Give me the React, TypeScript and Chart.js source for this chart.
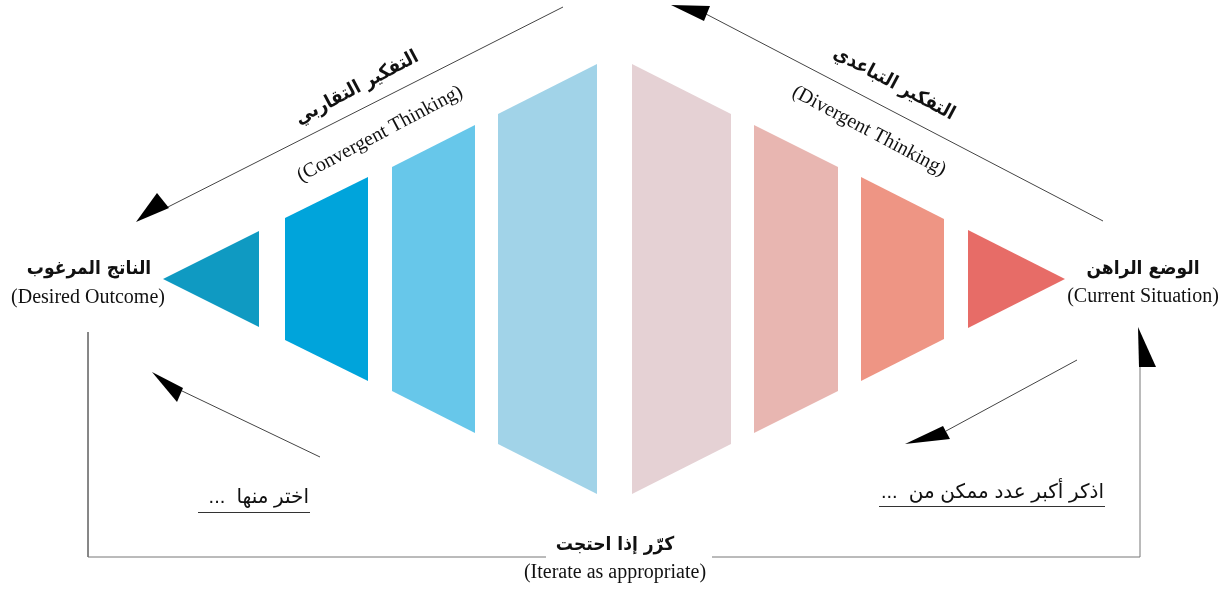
import React, { useEffect, useRef } from 'react';
import { Chart, registerables } from 'chart.js';

Chart.register(...registerables);

// ---- Diagram data (in canvas-sized data units: x 0..1230, y 0..590 top-down) ----
const centerY = 279;
const stageLeftX = [163, 285, 392, 498, 632, 754, 861, 968];
const stageRightX = [259, 368, 475, 597, 731, 838, 944, 1065];
const stageHalfLeft = [0, 61, 112, 165, 215, 154, 102, 49];
const stageHalfRight = [48, 102, 154, 215, 165, 112, 60, 0];
const stageColors = ['#0F9AC2', '#00A4DB', '#67C7EA', '#A1D3E8', '#E5D1D4', '#E8B6B1', '#EE9584', '#E76C67'];

const convergentLineX = [563, 166];
const convergentLineY = [7, 208];
const divergentLineX = [1103, 706];
const divergentLineY = [221, 14];
const chooseLineX = [320, 180];
const chooseLineY = [457, 390];
const listLineX = [1077, 946];
const listLineY = [360, 431];
const iterateLeftX = [88, 88, 546];
const iterateLeftY = [332, 557, 557];
const iterateRightX = [712, 1140, 1140];
const iterateRightY = [557, 557, 362];

// arrowheads: tip, base1, base2
const arrowTipX = [136, 671, 152, 905, 1138];
const arrowTipY = [222, 5, 372, 444, 327];
const arrowB1X = [157, 710, 183, 943, 1139];
const arrowB1Y = [193, 6, 388, 426, 367];
const arrowB2X = [169, 704, 177, 950, 1156];
const arrowB2Y = [208, 21, 402, 439, 367];

// ---- Text labels ----
const convergentAr = 'التفكير التقاربي';
const convergentEn = '(Convergent Thinking)';
const divergentAr = 'التفكير التباعدي';
const divergentEn = '(Divergent Thinking)';
const outcomeAr = 'الناتج المرغوب';
const outcomeEn = '(Desired Outcome)';
const currentAr = 'الوضع الراهن';
const currentEn = '(Current Situation)';
const iterateAr = 'كرّر إذا احتجت';
const iterateEn = '(Iterate as appropriate)';
const chooseAr = 'اختر منها  ...';
const listAr = 'اذكر أكبر عدد ممكن من  ...';

const AR_BOLD = "bold 19px 'DejaVu Sans Condensed', 'DejaVu Sans', sans-serif";
const EN_SERIF = "20px 'Liberation Serif', 'DejaVu Serif', serif";
const AR_PLAIN = "20px 'Liberation Sans', 'DejaVu Sans', sans-serif";

type Label = {
  text: string; x: number; y: number; angle: number; font: string;
  dir: 'rtl' | 'ltr'; align: 'center' | 'right'; underline?: number; underlineLeft?: number;
};

const labels: Label[] = [
  { text: convergentAr, x: 357, y: 88, angle: -28, font: AR_BOLD, dir: 'rtl', align: 'center' },
  { text: convergentEn, x: 380, y: 134, angle: -28, font: EN_SERIF, dir: 'ltr', align: 'center' },
  { text: divergentAr, x: 894, y: 84, angle: 28, font: AR_BOLD, dir: 'rtl', align: 'center' },
  { text: divergentEn, x: 869, y: 131, angle: 28, font: EN_SERIF, dir: 'ltr', align: 'center' },
  { text: outcomeAr, x: 89, y: 269, angle: 0, font: AR_BOLD, dir: 'rtl', align: 'center' },
  { text: outcomeEn, x: 88, y: 298, angle: 0, font: EN_SERIF, dir: 'ltr', align: 'center' },
  { text: currentAr, x: 1143, y: 269, angle: 0, font: AR_BOLD, dir: 'rtl', align: 'center' },
  { text: currentEn, x: 1143, y: 297, angle: 0, font: EN_SERIF, dir: 'ltr', align: 'center' },
  { text: iterateAr, x: 615, y: 545, angle: 0, font: AR_BOLD, dir: 'rtl', align: 'center' },
  { text: iterateEn, x: 615, y: 573, angle: 0, font: EN_SERIF, dir: 'ltr', align: 'center' },
  { text: chooseAr, x: 309, y: 497, angle: 0, font: AR_PLAIN, dir: 'rtl', align: 'right', underline: 512, underlineLeft: 198 },
  { text: listAr, x: 1104, y: 492, angle: 0, font: AR_PLAIN, dir: 'rtl', align: 'right', underline: 506, underlineLeft: 880 },
];

const overlayPlugin = {
  id: 'diagramOverlay',
  afterDatasetsDraw(chart: any) {
    const { ctx } = chart;
    const xs = chart.scales.x;
    const ys = chart.scales.y;
    const px = (v: number) => xs.getPixelForValue(v);
    const py = (v: number) => ys.getPixelForValue(v);
    ctx.save();
    // arrowheads
    ctx.fillStyle = '#000000';
    for (let i = 0; i < arrowTipX.length; i++) {
      ctx.beginPath();
      ctx.moveTo(px(arrowTipX[i]), py(arrowTipY[i]));
      ctx.lineTo(px(arrowB1X[i]), py(arrowB1Y[i]));
      ctx.lineTo(px(arrowB2X[i]), py(arrowB2Y[i]));
      ctx.closePath();
      ctx.fill();
    }
    // labels
    for (const l of labels) {
      ctx.save();
      ctx.font = l.font;
      ctx.fillStyle = '#111111';
      ctx.direction = l.dir;
      ctx.textBaseline = 'middle';
      ctx.textAlign = l.align;
      ctx.translate(px(l.x), py(l.y));
      ctx.rotate((l.angle * Math.PI) / 180);
      ctx.fillText(l.text, 0, 0);
      if (l.underline !== undefined) {
        const w = ctx.measureText(l.text).width;
        const left = l.underlineLeft !== undefined ? px(l.underlineLeft) - px(l.x) : -w - 4;
        const uy = py(l.underline) - py(l.y);
        ctx.strokeStyle = '#333333';
        ctx.lineWidth = 1;
        ctx.beginPath();
        ctx.moveTo(Math.min(left, -w - 2), uy + 0.5);
        ctx.lineTo(1, uy + 0.5);
        ctx.stroke();
      }
      ctx.restore();
    }
    ctx.restore();
  },
};

function lineDs(xv: number[], yv: number[], color: string, width = 1) {
  return {
    type: 'line' as const,
    data: xv.map((x, i) => ({ x, y: yv[i] })),
    borderColor: color,
    borderWidth: width,
    pointRadius: 0,
    fill: false,
    tension: 0,
    showLine: true,
  };
}

export default function App() {
  const ref = useRef<HTMLCanvasElement | null>(null);
  useEffect(() => {
    if (!ref.current) return;
    const datasets: any[] = [];
    stageLeftX.forEach((x0, i) => {
      const x1 = stageRightX[i];
      datasets.push({
        type: 'line',
        data: [
          { x: x0, y: centerY - stageHalfLeft[i] },
          { x: x1, y: centerY - stageHalfRight[i] },
        ],
        borderWidth: 0,
        borderColor: stageColors[i],
        backgroundColor: stageColors[i],
        pointRadius: 0,
        fill: false,
        tension: 0,
      });
      datasets.push({
        type: 'line',
        data: [
          { x: x0, y: centerY + stageHalfLeft[i] },
          { x: x1, y: centerY + stageHalfRight[i] },
        ],
        borderWidth: 0,
        borderColor: stageColors[i],
        backgroundColor: stageColors[i],
        pointRadius: 0,
        fill: '-1',
        tension: 0,
      });
    });
    datasets.push(lineDs(convergentLineX, convergentLineY, '#444444'));
    datasets.push(lineDs(divergentLineX, divergentLineY, '#444444'));
    datasets.push(lineDs(chooseLineX, chooseLineY, '#444444'));
    datasets.push(lineDs(listLineX, listLineY, '#444444'));
    datasets.push(lineDs(iterateLeftX, iterateLeftY, '#777777'));
    datasets.push(lineDs(iterateRightX, iterateRightY, '#777777'));

    const chart = new Chart(ref.current, {
      type: 'scatter',
      data: { datasets },
      options: {
        animation: false,
        responsive: false,
        maintainAspectRatio: false,
        devicePixelRatio: 1,
        layout: { padding: 0 },
        plugins: { legend: { display: false }, tooltip: { enabled: false } },
        events: [],
        scales: {
          x: { type: 'linear', min: 0, max: 1230, display: false },
          y: { type: 'linear', min: 0, max: 590, reverse: true, display: false },
        },
      },
      plugins: [overlayPlugin],
    } as any);
    return () => chart.destroy();
  }, []);
  return (
    <div style={{ position: 'absolute', left: 0, top: 0, width: 1230, height: 590, background: '#ffffff' }}>
      <canvas ref={ref} width={1230} height={590} style={{ display: 'block' }} />
    </div>
  );
}
